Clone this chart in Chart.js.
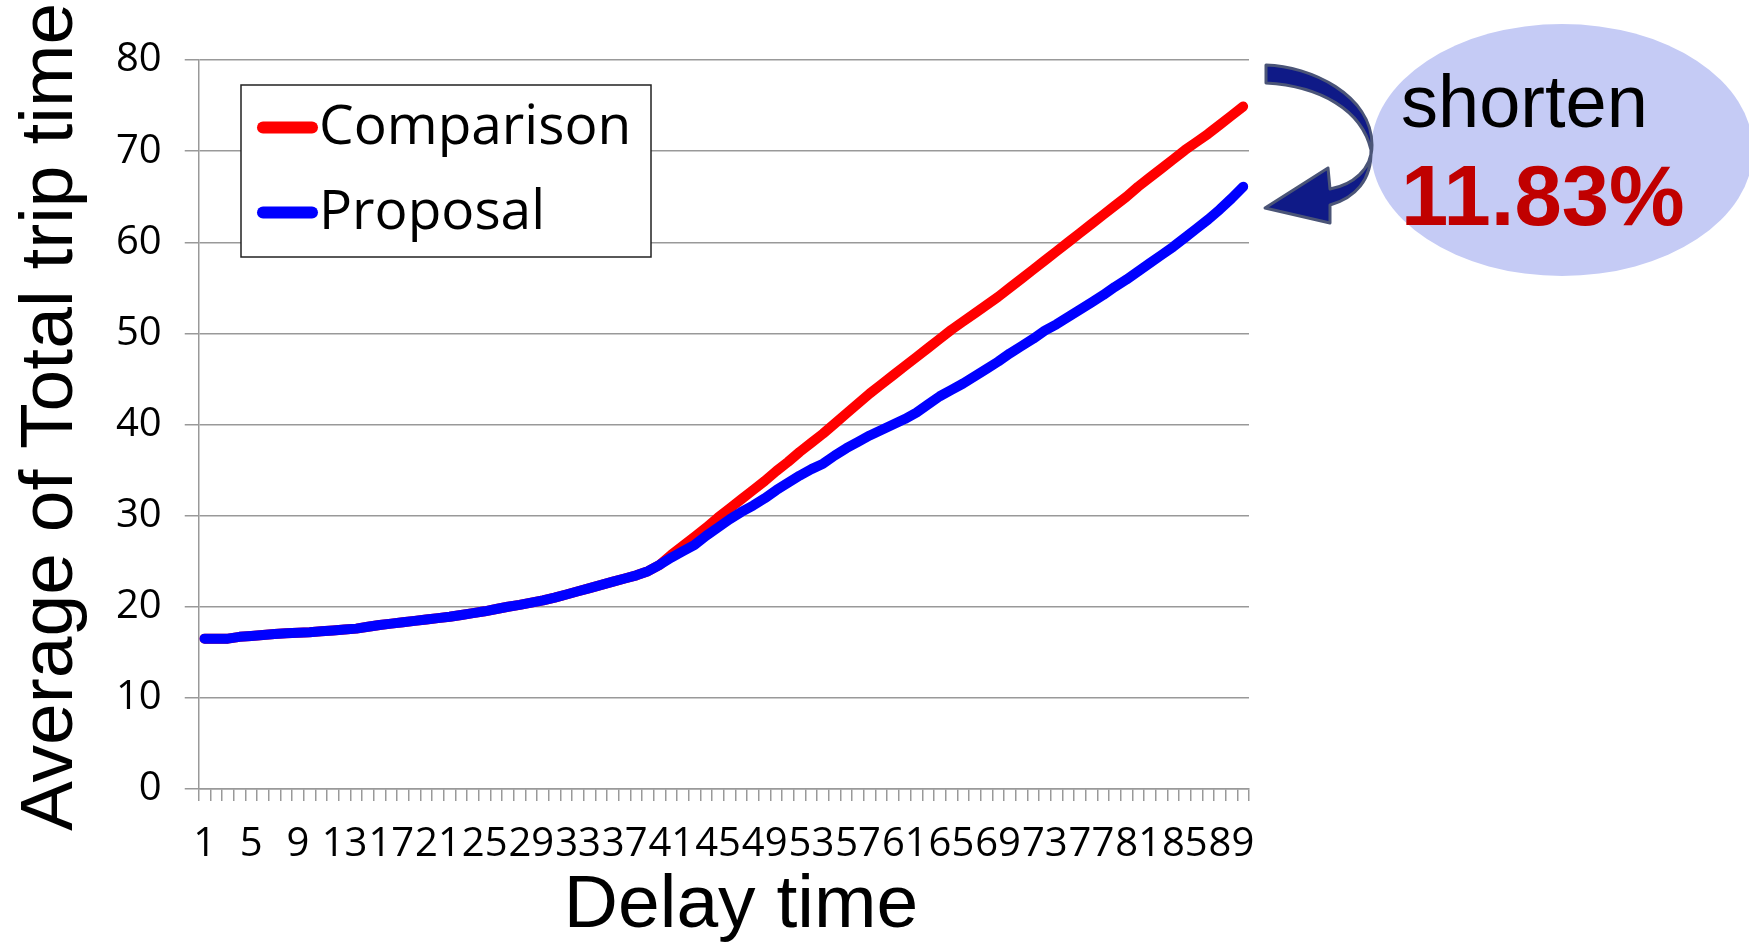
<!DOCTYPE html>
<html>
<head>
<meta charset="utf-8">
<script src="https://cdn.jsdelivr.net/npm/chart.js@4.4.1/dist/chart.umd.min.js"></script>
<style>
  html, body { margin: 0; padding: 0; background: #fff; }
  #wrap { width: 1749px; height: 944px; position: relative; }
</style>
</head>
<body>
<div id="wrap"><canvas id="trip"></canvas></div>
<script>
// Delay time 1..90
const delayLabels = [
  1, 2, 3, 4, 5, 6, 7, 8, 9, 10, 11, 12, 13, 14, 15, 16, 17, 18, 19, 20,
  21, 22, 23, 24, 25, 26, 27, 28, 29, 30, 31, 32, 33, 34, 35, 36, 37, 38, 39, 40,
  41, 42, 43, 44, 45, 46, 47, 48, 49, 50, 51, 52, 53, 54, 55, 56, 57, 58, 59, 60,
  61, 62, 63, 64, 65, 66, 67, 68, 69, 70, 71, 72, 73, 74, 75, 76, 77, 78, 79, 80,
  81, 82, 83, 84, 85, 86, 87, 88, 89, 90
];

const comparisonData = [
  16.5, 16.5, 16.5, 16.7, 16.8, 16.9, 17.0, 17.1, 17.15, 17.2,
  17.3, 17.4, 17.5, 17.6, 17.8, 18.0, 18.15, 18.3, 18.45, 18.6,
  18.75, 18.9, 19.1, 19.3, 19.5, 19.75, 20.0, 20.2, 20.45, 20.7,
  21.0, 21.35, 21.7, 22.05, 22.4, 22.75, 23.1, 23.45, 23.9, 24.6,
  25.7, 26.7, 27.7, 28.7, 29.8, 30.8, 31.8, 32.8, 33.8, 34.9,
  35.9, 37.0, 38.0, 39.0, 40.1, 41.2, 42.3, 43.4, 44.4, 45.4,
  46.4, 47.4, 48.4, 49.4, 50.4, 51.3, 52.2, 53.1, 54.0, 55.0,
  56.0, 57.0, 58.0, 59.0, 60.0, 61.0, 62.0, 63.0, 64.0, 65.0,
  66.1, 67.1, 68.1, 69.1, 70.1, 71.0, 71.9, 72.9, 73.9, 74.9
];

const proposalData = [
  16.5, 16.5, 16.5, 16.7, 16.8, 16.9, 17.0, 17.1, 17.15, 17.2,
  17.3, 17.4, 17.5, 17.6, 17.8, 18.0, 18.15, 18.3, 18.45, 18.6,
  18.75, 18.9, 19.1, 19.3, 19.5, 19.75, 20.0, 20.2, 20.45, 20.7,
  21.0, 21.35, 21.7, 22.05, 22.4, 22.75, 23.1, 23.45, 23.9, 24.6,
  25.4, 26.1, 26.8, 27.8, 28.7, 29.6, 30.4, 31.1, 31.9, 32.8,
  33.6, 34.4, 35.1, 35.7, 36.6, 37.4, 38.1, 38.8, 39.4, 40.0,
  40.6, 41.3, 42.2, 43.1, 43.8, 44.5, 45.3, 46.1, 46.9, 47.8,
  48.6, 49.4, 50.3, 51.0, 51.8, 52.6, 53.4, 54.2, 55.1, 55.9,
  56.8, 57.7, 58.6, 59.5, 60.5, 61.5, 62.5, 63.6, 64.8, 66.1
];

const seriesNames = ['Comparison', 'Proposal'];
const seriesColours = ['#ff0000', '#0000ff'];

const yMin = 0;
const yMax = 80;
const yStep = 10;

const xTitle = 'Delay time';
const yTitle = 'Average of Total trip time';

const noteWord = 'shorten';
const noteValue = '11.83%';

// axis titles (placed like the original, a bit off the plot centre)
const axisTitles = {
  id: 'axisTitles',
  afterDraw(chart) {
    const ctx = chart.ctx;
    ctx.save();
    ctx.fillStyle = '#000';
    ctx.font = '75px "Liberation Sans", Arial, sans-serif';
    ctx.textAlign = 'center';
    ctx.textBaseline = 'middle';
    ctx.fillText(xTitle, 741, 906);
    ctx.translate(51, 417);
    ctx.rotate(-Math.PI / 2);
    ctx.fillText(yTitle, 0, 0);
    ctx.restore();
  }
};

// legend in a box, top left of the plot
const boxLegend = {
  id: 'boxLegend',
  afterDraw(chart) {
    const ctx = chart.ctx;
    ctx.save();
    ctx.fillStyle = '#fff';
    ctx.fillRect(241, 85, 410, 172);
    ctx.strokeStyle = '#222';
    ctx.lineWidth = 1.5;
    ctx.strokeRect(241, 85, 410, 172);
    const rows = [127.5, 212.5];
    chart.data.datasets.forEach((ds, i) => {
      ctx.strokeStyle = ds.borderColor;
      ctx.lineWidth = 12;
      ctx.lineCap = 'round';
      ctx.beginPath();
      ctx.moveTo(263, rows[i]);
      ctx.lineTo(312, rows[i]);
      ctx.stroke();
      ctx.fillStyle = '#000';
      ctx.font = '55px "Open Sans"';
      ctx.textBaseline = 'middle';
      ctx.fillText(ds.label, 319, rows[i] + 1);
    });
    ctx.restore();
  }
};

// curved arrow + ellipse with the percentage
const shortenNote = {
  id: 'shortenNote',
  afterDraw(chart) {
    const ctx = chart.ctx;
    ctx.save();
    ctx.fillStyle = '#c5cbf5';
    ctx.beginPath();
    ctx.ellipse(1562, 150, 191, 126, 0, 0, Math.PI * 2);
    ctx.fill();

    ctx.fillStyle = '#000';
    ctx.font = '74px "Liberation Sans", Arial, sans-serif';
    ctx.textBaseline = 'alphabetic';
    ctx.fillText(noteWord, 1401, 127);
    ctx.fillStyle = '#c00000';
    ctx.font = 'bold 85px "Liberation Sans", Arial, sans-serif';
    ctx.fillText(noteValue, 1401, 225);

    ctx.beginPath();
    ctx.moveTo(1266, 65);
    ctx.bezierCurveTo(1310, 66, 1372, 95, 1372, 145);
    ctx.bezierCurveTo(1372, 170, 1352, 185, 1330, 189);
    ctx.lineTo(1328, 168);
    ctx.lineTo(1265, 208);
    ctx.lineTo(1330, 223);
    ctx.lineTo(1330, 205);
    ctx.bezierCurveTo(1355, 198, 1372, 180, 1371, 150);
    ctx.bezierCurveTo(1362, 110, 1320, 86, 1266, 83);
    ctx.closePath();
    ctx.fillStyle = '#0f1a87';
    ctx.fill();
    ctx.strokeStyle = '#4b5577';
    ctx.lineWidth = 3;
    ctx.lineJoin = 'round';
    ctx.stroke();
    ctx.restore();
  }
};

const trip = document.getElementById('trip').getContext('2d');

const tripChart = new Chart(trip, {
  type: 'line',
  data: {
    labels: delayLabels,
    datasets: [{
      label: seriesNames[0],
      data: comparisonData,
      borderColor: seriesColours[0],
      order: 2
    }, {
      label: seriesNames[1],
      data: proposalData,
      borderColor: seriesColours[1],
      order: 1
    }]
  },
  plugins: [axisTitles, boxLegend, shortenNote],
  options: {
    responsive: true,
    maintainAspectRatio: false,
    animation: false,
    layout: {
      // room for the axis titles drawn by the plugin
      padding: { left: 93, top: 60, right: 500, bottom: 55 }
    },
    elements: {
      line: {
        borderWidth: 10,
        tension: 0,
        borderCapStyle: 'round',
        borderJoinStyle: 'round',
        fill: false
      },
      point: { radius: 0, hoverRadius: 0 }
    },
    plugins: {
      legend: { display: false },
      tooltip: { enabled: false }
    },
    scales: {
      x: {
        offset: true,
        grid: {
          offset: true,
          drawOnChartArea: false,
          color: '#999',
          lineWidth: 1.5,
          tickLength: 12
        },
        border: { color: '#999', width: 1.5 },
        ticks: {
          autoSkip: false,
          maxRotation: 0,
          minRotation: 0,
          color: '#000',
          padding: 20,
          font: { family: 'Open Sans', size: 40 },
          // every 4th label, like 1 5 9 13 ...
          callback: function(val, index) {
            return index % 4 === 0 ? this.getLabelForValue(val) : '';
          }
        }
      },
      y: {
        min: yMin,
        max: yMax,
        grid: {
          color: '#999',
          lineWidth: 1.5,
          tickLength: 14
        },
        border: { color: '#999', width: 1.5 },
        ticks: {
          stepSize: yStep,
          color: '#000',
          padding: 23,
          font: { family: 'Open Sans', size: 40 }
        }
      }
    }
  }
});
</script>
</body>
</html>
